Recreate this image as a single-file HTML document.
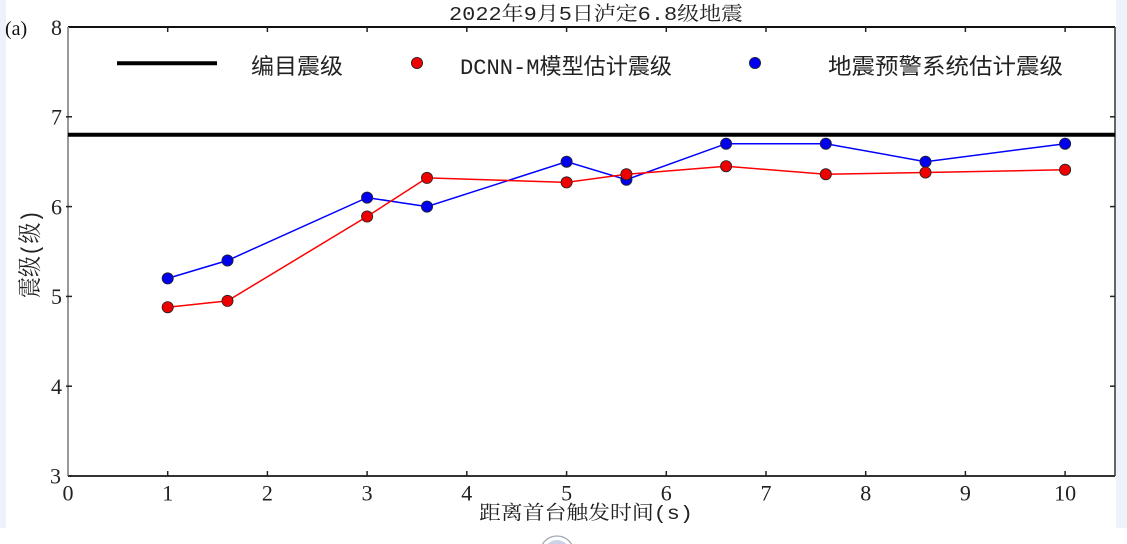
<!DOCTYPE html>
<html><head><meta charset="utf-8">
<style>
html,body{margin:0;padding:0;background:#fff;}
body{width:1127px;height:544px;overflow:hidden;position:relative;}
svg{display:block;}
</style></head>
<body>
<svg width="1127" height="544" viewBox="0 0 1127 544" xmlns="http://www.w3.org/2000/svg">
  <rect x="0" y="0" width="1127" height="544" fill="#fff"/>
  <rect x="0" y="0" width="6" height="528" fill="#edf2fb"/>
  <rect x="1116" y="0" width="11" height="528" fill="#edf2fb"/>
  <!-- logo partial -->
  <circle cx="557" cy="553" r="17" fill="#fff" stroke="#a0a5b0" stroke-width="1.2"/>
  <circle cx="557" cy="553" r="13" fill="#7f90c8" opacity="0.4"/>

  <!-- plot area -->
  <rect x="68" y="27" width="1047" height="449" fill="#fff"/>

  <!-- title -->
  <text x="449" y="20" font-family="'Liberation Mono','Noto Serif CJK SC',serif" font-size="19.5" fill="#222" textLength="294" lengthAdjust="spacingAndGlyphs">2022年9月5日泸定6.8级地震</text>

  <!-- (a) -->
  <text x="5" y="35" font-family="'Liberation Serif',serif" font-size="20" fill="#111">(a)</text>

  <!-- axes -->
  <line x1="68" y1="27" x2="1115" y2="27" stroke="#111" stroke-width="2"/>
  <line x1="68" y1="476" x2="1115" y2="476" stroke="#333" stroke-width="2"/>
  <line x1="68" y1="27" x2="68" y2="476" stroke="#999" stroke-width="2"/>
  <line x1="1115" y1="27" x2="1115" y2="476" stroke="#333" stroke-width="1.5"/>

  <!-- x ticks -->
  <g stroke="#222" stroke-width="1.5">
    <line x1="167.7" y1="476" x2="167.7" y2="471"/><line x1="167.7" y1="27" x2="167.7" y2="32"/>
    <line x1="267.4" y1="476" x2="267.4" y2="471"/><line x1="267.4" y1="27" x2="267.4" y2="32"/>
    <line x1="367.1" y1="476" x2="367.1" y2="471"/><line x1="367.1" y1="27" x2="367.1" y2="32"/>
    <line x1="466.8" y1="476" x2="466.8" y2="471"/><line x1="466.8" y1="27" x2="466.8" y2="32"/>
    <line x1="566.6" y1="476" x2="566.6" y2="471"/><line x1="566.6" y1="27" x2="566.6" y2="32"/>
    <line x1="666.3" y1="476" x2="666.3" y2="471"/><line x1="666.3" y1="27" x2="666.3" y2="32"/>
    <line x1="766.0" y1="476" x2="766.0" y2="471"/><line x1="766.0" y1="27" x2="766.0" y2="32"/>
    <line x1="865.7" y1="476" x2="865.7" y2="471"/><line x1="865.7" y1="27" x2="865.7" y2="32"/>
    <line x1="965.4" y1="476" x2="965.4" y2="471"/><line x1="965.4" y1="27" x2="965.4" y2="32"/>
    <line x1="1065.1" y1="476" x2="1065.1" y2="471"/><line x1="1065.1" y1="27" x2="1065.1" y2="32"/>
    <line x1="68" y1="476" x2="72" y2="476"/>
    <!-- y ticks -->
    <line x1="66" y1="116.8" x2="72" y2="116.8"/><line x1="1115" y1="116.8" x2="1110" y2="116.8"/>
    <line x1="66" y1="206.6" x2="72" y2="206.6"/><line x1="1115" y1="206.6" x2="1110" y2="206.6"/>
    <line x1="66" y1="296.4" x2="72" y2="296.4"/><line x1="1115" y1="296.4" x2="1110" y2="296.4"/>
    <line x1="66" y1="386.2" x2="72" y2="386.2"/><line x1="1115" y1="386.2" x2="1110" y2="386.2"/>
  </g>

  <!-- y tick labels -->
  <g font-family="'Liberation Serif',serif" font-size="22" fill="#222" text-anchor="end">
    <text x="62" y="35">8</text>
    <text x="62" y="124.5">7</text>
    <text x="62" y="214.3">6</text>
    <text x="62" y="304">5</text>
    <text x="62" y="394">4</text>
    <text x="61" y="483.5">3</text>
  </g>
  <!-- x tick labels -->
  <g font-family="'Liberation Serif',serif" font-size="22" fill="#222" text-anchor="middle">
    <text x="68" y="500.5">0</text>
    <text x="167.7" y="500.5">1</text>
    <text x="267.4" y="500.5">2</text>
    <text x="367.1" y="500.5">3</text>
    <text x="466.8" y="500.5">4</text>
    <text x="566.6" y="500.5">5</text>
    <text x="666.3" y="500.5">6</text>
    <text x="766.0" y="500.5">7</text>
    <text x="865.7" y="500.5">8</text>
    <text x="965.4" y="500.5">9</text>
    <text x="1065.1" y="500.5">10</text>
  </g>

  <!-- axis labels -->
  <text x="479" y="519" font-family="'Liberation Mono','Noto Serif CJK SC',serif" font-size="19.5" fill="#222" textLength="214" lengthAdjust="spacingAndGlyphs">距离首台触发时间(s)</text>
  <text transform="translate(38,254) scale(1.3,1) rotate(-90)" x="0" y="0" text-anchor="middle" font-family="'Liberation Mono','Noto Serif CJK SC',serif" font-size="18.5" fill="#222" textLength="88" lengthAdjust="spacingAndGlyphs">震级(级)</text>

  <!-- catalog magnitude line -->
  <line x1="68" y1="134.8" x2="1115" y2="134.8" stroke="#000" stroke-width="4"/>

  <!-- blue series -->
  <polyline fill="none" stroke="#0000ff" stroke-width="1.5" points="167.7,278.4 227.5,260.5 367.1,197.6 427,206.6 566.6,161.7 626.4,179.7 726.1,143.7 825.8,143.7 925.5,161.7 1065.1,143.7"/>
  <g fill="#0000ee" stroke="#222" stroke-width="0.8">
    <circle cx="167.7" cy="278.4" r="5.6"/>
    <circle cx="227.5" cy="260.5" r="5.6"/>
    <circle cx="367.1" cy="197.6" r="5.6"/>
    <circle cx="427" cy="206.6" r="5.6"/>
    <circle cx="566.6" cy="161.7" r="5.6"/>
    <circle cx="626.4" cy="179.7" r="5.6"/>
    <circle cx="726.1" cy="143.7" r="5.6"/>
    <circle cx="825.8" cy="143.7" r="5.6"/>
    <circle cx="925.5" cy="161.7" r="5.6"/>
    <circle cx="1065.1" cy="143.7" r="5.6"/>
  </g>

  <!-- red series -->
  <polyline fill="none" stroke="#ff0000" stroke-width="1.5" points="167.7,307.2 227.5,300.9 367.1,216.5 427,177.9 566.6,182.4 626.4,174.3 726.1,166.2 825.8,174.3 925.5,172.5 1065.1,169.8"/>
  <g fill="#ee0000" stroke="#222" stroke-width="0.8">
    <circle cx="167.7" cy="307.2" r="5.6"/>
    <circle cx="227.5" cy="300.9" r="5.6"/>
    <circle cx="367.1" cy="216.5" r="5.6"/>
    <circle cx="427" cy="177.9" r="5.6"/>
    <circle cx="566.6" cy="182.4" r="5.6"/>
    <circle cx="626.4" cy="174.3" r="5.6"/>
    <circle cx="726.1" cy="166.2" r="5.6"/>
    <circle cx="825.8" cy="174.3" r="5.6"/>
    <circle cx="925.5" cy="172.5" r="5.6"/>
    <circle cx="1065.1" cy="169.8" r="5.6"/>
  </g>

  <!-- legend -->
  <line x1="117" y1="63.3" x2="217" y2="63.3" stroke="#000" stroke-width="4"/>
  <text x="251" y="74" font-family="'Liberation Sans','Noto Sans CJK SC',sans-serif" font-size="22" fill="#222" textLength="92" lengthAdjust="spacingAndGlyphs">编目震级</text>
  <circle cx="417" cy="63" r="5.6" fill="#ee0000" stroke="#222" stroke-width="0.8"/>
  <text x="460" y="74" font-family="'Liberation Mono','Noto Sans CJK SC',sans-serif" font-size="22" fill="#222" textLength="212" lengthAdjust="spacingAndGlyphs">DCNN-M模型估计震级</text>
  <circle cx="755" cy="63" r="5.6" fill="#0000ee" stroke="#222" stroke-width="0.8"/>
  <text x="828" y="74" font-family="'Liberation Sans','Noto Sans CJK SC',sans-serif" font-size="22" fill="#222" textLength="235" lengthAdjust="spacingAndGlyphs">地震预警系统估计震级</text>
</svg>
</body></html>
